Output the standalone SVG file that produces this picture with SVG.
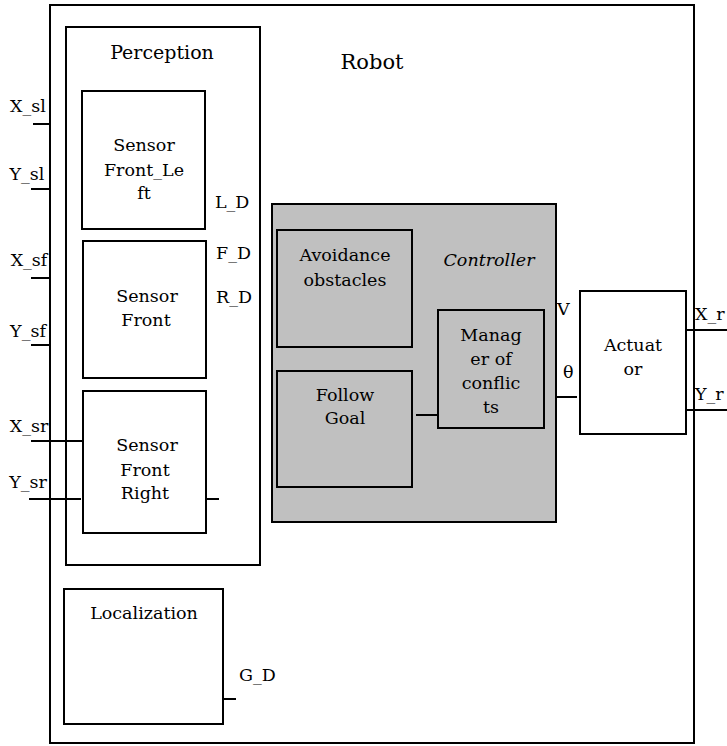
<svg xmlns="http://www.w3.org/2000/svg" width="727" height="746" viewBox="0 0 727 746">
<style>
.box{fill:#ffffff;stroke:#000;stroke-width:2}
.gray{fill:#c0c0c0;stroke:#000;stroke-width:2}
.ln{stroke:#000;stroke-width:2;fill:none}
text{font-family:'DejaVu Serif','Liberation Serif',serif;font-size:17.5px;fill:#000}
.c{text-anchor:middle}
</style>
<rect width="727" height="746" fill="#fff"/>
<g id="robot">
<rect class="box" x="50" y="5" width="644" height="738"/>
<text x="372" y="69" class="c" style="font-size:21px">Robot</text>
</g>
<g id="perception">
<rect class="box" x="66" y="27" width="194" height="538"/>
<text x="162" y="59" class="c" style="font-size:19px">Perception</text>
</g>
<g id="sensor-front-left">
<rect class="box" x="82" y="91" width="123" height="138"/>
<text x="144" y="151" class="c">Sensor</text>
<text x="144" y="176" class="c">Front_Le</text>
<text x="144" y="199" class="c">ft</text>
</g>
<g id="sensor-front">
<rect class="box" x="83" y="241" width="123" height="137"/>
<text x="147" y="302" class="c">Sensor</text>
<text x="146" y="326" class="c">Front</text>
</g>
<g id="sensor-front-right">
<rect class="box" x="83" y="391" width="123" height="142"/>
<text x="147" y="451" class="c">Sensor</text>
<text x="145" y="476" class="c">Front</text>
<text x="145" y="499" class="c">Right</text>
</g>
<g id="localization">
<rect class="box" x="64" y="589" width="159" height="135"/>
<text x="144" y="619" class="c">Localization</text>
</g>
<g id="controller">
<rect class="gray" x="272" y="204" width="284" height="318"/>
<text x="489" y="266" class="c" style="font-style:italic">Controller</text>
</g>
<g id="avoidance-obstacles">
<rect class="gray" x="277" y="230" width="135" height="117"/>
<text x="345" y="261" class="c">Avoidance</text>
<text x="345" y="286" class="c">obstacles</text>
</g>
<g id="follow-goal">
<rect class="gray" x="277" y="371" width="135" height="116"/>
<text x="345" y="401" class="c">Follow</text>
<text x="345" y="424" class="c">Goal</text>
</g>
<g id="manager-of-conflicts">
<rect class="gray" x="438" y="310" width="106" height="118"/>
<text x="491" y="341" class="c">Manag</text>
<text x="491" y="365" class="c">er of</text>
<text x="491" y="389" class="c">conflic</text>
<text x="491" y="413" class="c">ts</text>
</g>
<g id="actuator">
<rect class="box" x="580" y="291" width="106" height="143"/>
<text x="633" y="351" class="c">Actuat</text>
<text x="633" y="375" class="c">or</text>
</g>
<g id="connectors">
<line class="ln" x1="33" y1="124" x2="50" y2="124"/>
<line class="ln" x1="31" y1="189" x2="50" y2="189"/>
<line class="ln" x1="31" y1="278" x2="50" y2="278"/>
<line class="ln" x1="31" y1="345" x2="50" y2="345"/>
<line class="ln" x1="31" y1="441" x2="83" y2="441"/>
<line class="ln" x1="29" y1="499" x2="81" y2="499"/>
<line class="ln" x1="206" y1="499" x2="219" y2="499"/>
<line class="ln" x1="223" y1="699" x2="236" y2="699"/>
<line class="ln" x1="416" y1="415" x2="438" y2="415"/>
<line class="ln" x1="556" y1="397" x2="577" y2="397"/>
<line class="ln" x1="686" y1="330" x2="727" y2="330"/>
<line class="ln" x1="686" y1="410" x2="727" y2="410"/>
</g>
<g id="labels">
<text x="28" y="112" class="c">X_sl</text>
<text x="27" y="180" class="c">Y_sl</text>
<text x="29" y="266" class="c">X_sf</text>
<text x="28" y="337" class="c">Y_sf</text>
<text x="29" y="432" class="c">X_sr</text>
<text x="28" y="488" class="c">Y_sr</text>
<text x="215" y="208">L_D</text>
<text x="216" y="259">F_D</text>
<text x="216" y="303">R_D</text>
<text x="239" y="681">G_D</text>
<text x="557" y="315">V</text>
<text x="563" y="378">θ</text>
<text x="695" y="320">X_r</text>
<text x="695" y="400">Y_r</text>
</g>
</svg>
